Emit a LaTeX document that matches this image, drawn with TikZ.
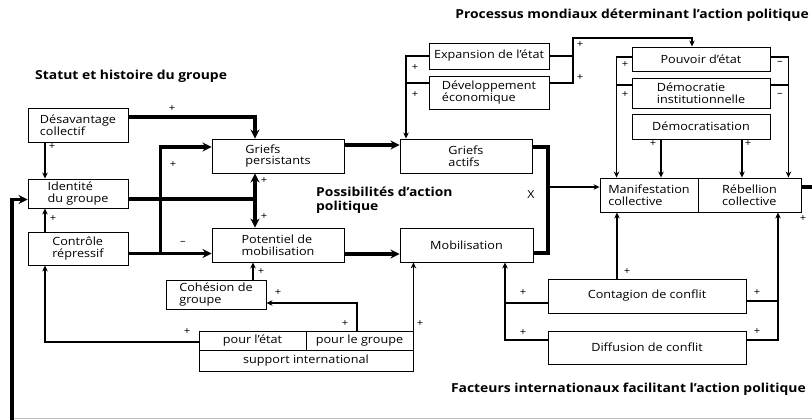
\documentclass[tikz,border=0pt]{standalone}
\usepackage{fontspec}
\setmainfont{Open Sans}[FakeStretch=1.12]
\usetikzlibrary{arrows.meta}

\begin{document}
\begin{tikzpicture}[x=1pt, y=-1pt]
            \tikzset{
                box/.style = {draw, line width=0.9pt, align=left, inner sep=0pt, font=\fontsize{11.3}{11.8}\selectfont},
                title/.style = {font=\bfseries\fontsize{12.4}{13.5}\selectfont, align=left, inner sep=0pt},
                sign/.style = {font=\fontsize{10}{10}\selectfont, inner sep=0pt},
                slimline/.style = {line width=1.4pt},
                fatline/.style = {line width=3.2pt},
                slimtip/.style = {slimline, -{Stealth[length=6pt, width=5.5pt]}},
                fattip/.style = {fatline, -{Stealth[length=9pt, width=9pt]}},
            }
            \useasboundingbox (0,0) rectangle (812,420);

            {
                \node[title, anchor=west] (tstatut) at (35,76) {Statut et histoire du groupe};
                \node[title, anchor=east] (tmonde) at (809,15) {Processus mondiaux déterminant l’action politique};
                \node[title, anchor=west] (tposs) at (316,200) {Possibilités d’action\\politique};
                \node[title, anchor=east] (tfact) at (806,389) {Facteurs internationaux facilitant l’action politique};
            }

            % groupe
            \node[box, minimum width=100pt, minimum height=34pt] (desav) at (78,125) {Désavantage\\collectif};
            \node[box, minimum width=100pt, minimum height=29pt] (ident) at (78,193.5) {Identité\\du groupe};
            \node[box, minimum width=100pt, minimum height=33pt] (contr) at (78,248.5) {Contrôle\\répressif};
            \node[box, minimum width=132pt, minimum height=34pt] (grpers) at (278,156) {Griefs\\persistants};
            \node[box, minimum width=132pt, minimum height=34pt] (potent) at (278,245) {Potentiel de\\mobilisation};
            \node[box, minimum width=100pt, minimum height=29pt] (cohes) at (216,294.5) {Cohésion de\\groupe};
            \node[box, minimum width=107pt, minimum height=19pt] (petat) at (252.5,340.5) {pour l’état};
            \node[box, minimum width=107pt, minimum height=19pt] (pgroupe) at (359.5,340.5) {pour le groupe};
            \node[box, minimum width=214pt, minimum height=21pt] (suppint) at (306,360.5) {support international};

            % action
            \node[box, minimum width=132pt, minimum height=34pt] (gract) at (466,156) {Griefs\\actifs};
            \node[box, minimum width=133pt, minimum height=34pt] (mobil) at (466.5,245) {Mobilisation};
            \node[box, minimum width=120pt, minimum height=26pt] (expan) at (489,56) {Expansion de l’état};
            \node[box, minimum width=120pt, minimum height=33pt] (devel) at (489,92.5) {Développement\\économique};
            \node[box, minimum width=138pt, minimum height=24pt] (pouvoir) at (701,59) {Pouvoir d’état};
            \node[box, minimum width=138pt, minimum height=30pt] (demins) at (701,93) {Démocratie\\institutionnelle};
            \node[box, minimum width=138pt, minimum height=25pt] (democ) at (701,126.5) {Démocratisation};
            \node[box, minimum width=98pt, minimum height=34pt] (manif) at (649,195) {Manifestation\\collective};
            \node[box, minimum width=103pt, minimum height=34pt] (rebel) at (749.5,195) {Rébellion\\collective};
            \node[box, minimum width=198pt, minimum height=34pt] (contag) at (647,296) {Contagion de conflit};
            \node[box, minimum width=198pt, minimum height=33pt] (diffus) at (647,347.5) {Diffusion de conflit};

            \coordinate (jident) at (255,199);
            \coordinate (xjoin) at (548,187);
            \coordinate (ptop) at (573,38);
            \coordinate (redge) at (812,187);
            \coordinate (lbot) at (12,420);
            \coordinate (gleft) at (14,418);
            \coordinate (gright) at (812,418);

            % liens du groupe
            \draw[slimtip] ([xshift=-33pt]desav.south) -- ([xshift=-33pt]ident.north);
            \draw[slimtip] ([xshift=-33pt]contr.north) -- ([xshift=-33pt]ident.south);
            \draw[fattip] ([yshift=8pt]desav.east) -| ([xshift=-23pt]grpers.north);
            \draw[fattip] ([yshift=-5pt]contr.east) -- ([yshift=-5pt]contr.east -| potent.west);
            \draw[fattip] ([xshift=32pt, yshift=-5pt]contr.east) |- ([yshift=9pt]grpers.west);
            \draw[fatline] ([yshift=-5.5pt]ident.east) -- (jident);
            \draw[fatline, {Stealth[length=9pt, width=9pt]}-{Stealth[length=9pt, width=9pt]}] ([xshift=-23pt]grpers.south) -- ([xshift=-23pt]potent.north);
            \draw[fattip] ([yshift=11pt]grpers.east) -- ([yshift=11pt]gract.west);
            \draw[fattip] ([yshift=-9pt]potent.east) -- ([yshift=-9pt]mobil.west);
            \draw[slimtip] ([xshift=37pt]cohes.north) -- ([xshift=-25pt]potent.south);
            \draw[slimtip] ([xshift=-2.5pt]pgroupe.north) |- ([yshift=-8.5pt]cohes.east);
            \draw[slimtip] (pgroupe.north east) -- (pgroupe.north east |- mobil.south);
            \draw[slimtip] ([yshift=-1.5pt]petat.west) -| ([xshift=-33pt]contr.south);
            \draw[fattip] (lbot) |- ([yshift=-6pt]ident.west);
            \draw[black!25, line width=1pt] (gleft) -- (gright);

            % action et processus
            \draw[fatline] ([yshift=9pt]gract.east) -| (xjoin) |- ([yshift=-8pt]mobil.east);
            \draw[slimtip] (xjoin) -- (xjoin -| manif.west);
            \draw[slimtip] (expan.west) -| ([xshift=-60pt]gract.north);
            \draw[slimline] ([yshift=9.5pt]devel.west) -- ++(-22pt,0);
            \draw[slimtip] ([yshift=9.5pt]devel.east) -| (ptop) -| ([xshift=-9pt]pouvoir.north);
            \draw[slimline] (expan.east) -- (expan.east -| ptop);
            \draw[slimtip] ([yshift=2pt]pouvoir.west) -| ([xshift=17pt]manif.north west);
            \draw[slimline] ([yshift=8pt]demins.west) -- ++(-15pt,0);
            \draw[slimtip] ([yshift=2pt]pouvoir.east) -| ([xshift=-13pt]rebel.north east);
            \draw[slimline] ([yshift=8pt]demins.east) -- ++(18pt,0);
            \draw[slimtip] ([xshift=-40pt]democ.south) -- ([xshift=-40pt]democ.south |- manif.north);
            \draw[slimtip] ([xshift=41pt]democ.south) -- ([xshift=41pt]democ.south |- rebel.north);
            \draw[fatline] ([yshift=8pt]rebel.east) -- (redge);

            % facteurs internationaux
            \draw[slimtip] ([xshift=-30pt]contag.north) -- ([xshift=-30pt]contag.north |- manif.south);
            \draw[slimtip] ([yshift=7.5pt]diffus.east) -| ([xshift=28.5pt]rebel.south);
            \draw[slimline] ([yshift=-5pt]contag.east) -- ++(32pt,0);
            \draw[slimtip] ([yshift=7.5pt]diffus.west) -| ([xshift=38.5pt]mobil.south);
            \draw[slimline] ([yshift=-7pt]contag.west) -- ++(-43pt,0);

            % signes
            \node[sign] (s1) at (52,147) {+};
            \node[sign] (s2) at (172,109) {+};
            \node[sign] (s3) at (173,165) {+};
            \node[sign] (s4) at (183,243) {–};
            \node[sign] (s5) at (53,219) {+};
            \node[sign] (s6) at (264,181) {+};
            \node[sign] (s7) at (264,217) {+};
            \node[sign] (s8) at (261,272) {+};
            \node[sign] (s9) at (278,293) {+};
            \node[sign] (s10) at (345,324) {+};
            \node[sign] (s11) at (420,324) {+};
            \node[sign] (s12) at (187,332) {+};
            \node[sign] (s13) at (415,68) {+};
            \node[sign] (s14) at (415,95) {+};
            \node[sign] (s15) at (580,45) {+};
            \node[sign] (s16) at (580,78) {+};
            \node[sign] (s17) at (625,65) {+};
            \node[sign] (s18) at (625,95) {+};
            \node[sign] (s19) at (780,63) {–};
            \node[sign] (s20) at (780,95) {–};
            \node[sign] (s21) at (653,144) {+};
            \node[sign] (s22) at (748,144) {+};
            \node[sign] (s23) at (627,272) {+};
            \node[sign] (s24) at (523,293) {+};
            \node[sign] (s25) at (523,333) {+};
            \node[sign] (s26) at (757,293) {+};
            \node[sign] (s27) at (757,332) {+};
            \node[sign] (s28) at (803,219) {+};
            \node[font=\fontsize{11}{11}\selectfont] (xmark) at (531,195) {X};

        \end{tikzpicture}
\end{document}
